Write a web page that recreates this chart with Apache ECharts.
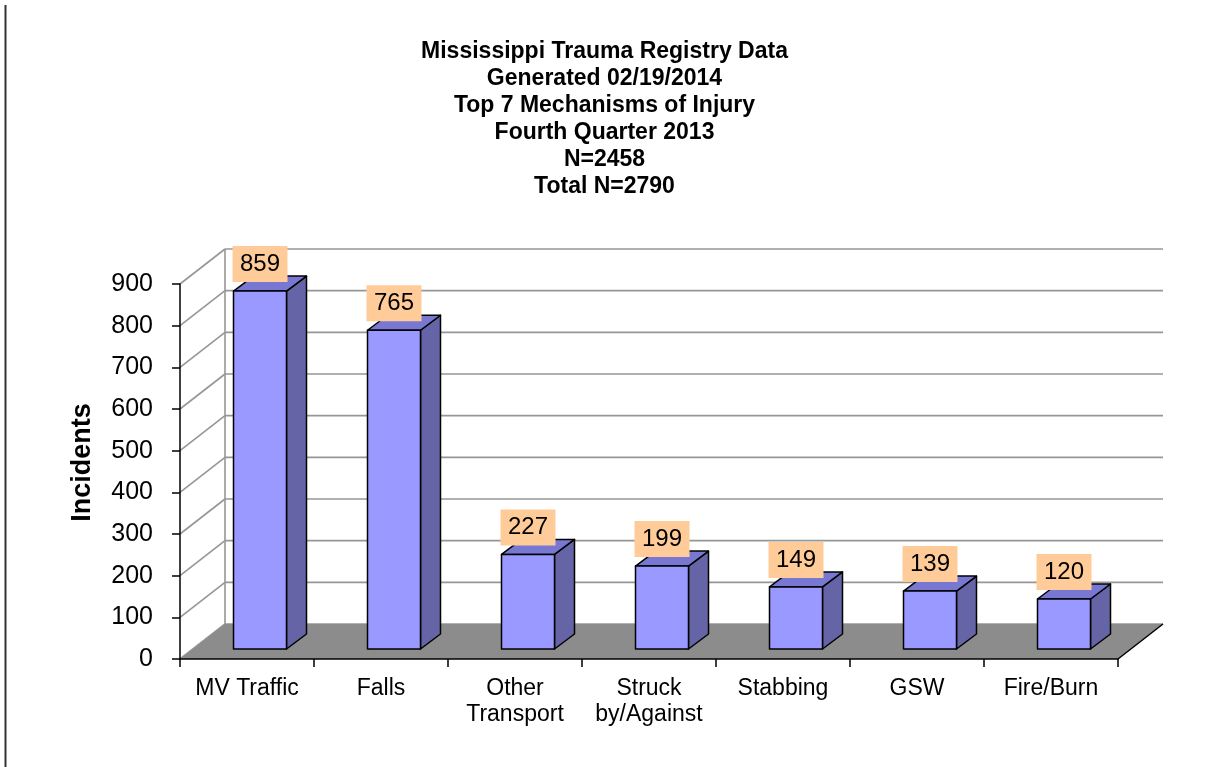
<!DOCTYPE html>
<html>
<head>
<meta charset="utf-8">
<title>Top 7 Mechanisms of Injury</title>
<script src="https://cdn.jsdelivr.net/npm/echarts@6/dist/echarts.min.js"></script>
<style>
    html, body { margin: 0; padding: 0; background: #ffffff; }
    #chart { width: 1209px; height: 767px; }
</style>
</head>
<body>
<div id="chart"></div>
<script>
const titleLines = [
    'Mississippi Trauma Registry Data',
    'Generated 02/19/2014',
    'Top 7 Mechanisms of Injury',
    'Fourth Quarter 2013',
    'N=2458',
    'Total N=2790'
];
const categories = ['MV Traffic', 'Falls', 'Other\nTransport', 'Struck\nby/Against', 'Stabbing', 'GSW', 'Fire/Burn'];
const incidents = [859, 765, 227, 199, 149, 139, 120];
const yTicks = [0, 100, 200, 300, 400, 500, 600, 700, 800, 900];

(function () {
    const FONT = 'Arial, "Liberation Sans", sans-serif';
    // depth of the 3d box (floor / walls)
    const DX = 45, DY = -35;
    // bar sits inside the depth
    const BAR_FX = 13, BAR_FY = -10;
    const BAR_W = 53, SIDE_DX = 20, SIDE_DY = -15;
    const GRID_COLOR = '#969696';

    const chart = echarts.init(document.getElementById('chart'));

    function renderWall(params, api) {
        const cs = params.coordSys;
        const y = api.coord([0, api.value(1)])[1];
        const children = [
            {
                type: 'line',
                shape: { x1: cs.x, y1: y, x2: cs.x + DX, y2: y + DY },
                style: { stroke: GRID_COLOR, lineWidth: 1.6 }
            },
            {
                type: 'line',
                shape: { x1: cs.x + DX, y1: y + DY, x2: cs.x + cs.width + DX, y2: y + DY },
                style: { stroke: GRID_COLOR, lineWidth: 1.6 }
            }
        ];
        if (params.dataIndex === 0) {
            children.push({
                type: 'line',
                shape: { x1: cs.x + DX, y1: cs.y + DY, x2: cs.x + DX, y2: y + DY },
                style: { stroke: GRID_COLOR, lineWidth: 1.6 }
            });
        }
        return { type: 'group', children: children };
    }

    function renderFloor(params, api) {
        const cs = params.coordSys;
        const y0 = api.coord([0, 0])[1];
        const xl = cs.x, xr = cs.x + cs.width;
        return {
            type: 'group',
            children: [
                {
                    type: 'polygon',
                    shape: { points: [[xl, y0], [xl + DX, y0 + DY], [xr + DX, y0 + DY], [xr, y0]] },
                    style: { fill: '#8c8c8c' }
                },
                {
                    type: 'line',
                    shape: { x1: xr, y1: y0, x2: xr + DX, y2: y0 + DY },
                    style: { stroke: '#000000', lineWidth: 1.5 }
                }
            ]
        };
    }

    function renderBar(params, api) {
        const val = api.value(1);
        const top = api.coord([api.value(0), val]);
        const base = api.coord([api.value(0), 0]);
        const cx = top[0] + BAR_FX;
        const xl = cx - BAR_W / 2, xr = cx + BAR_W / 2;
        const yt = top[1] + BAR_FY, yb = base[1] + BAR_FY;
        const edge = { stroke: '#000000', lineWidth: 1.5, lineJoin: 'round' };
        return {
            type: 'group',
            children: [
                {
                    type: 'polygon',
                    shape: { points: [[xr, yt], [xr + SIDE_DX, yt + SIDE_DY], [xr + SIDE_DX, yb + SIDE_DY], [xr, yb]] },
                    style: Object.assign({ fill: '#6464a6' }, edge)
                },
                {
                    type: 'polygon',
                    shape: { points: [[xl, yt], [xr, yt], [xr + SIDE_DX, yt + SIDE_DY], [xl + SIDE_DX, yt + SIDE_DY]] },
                    style: Object.assign({ fill: '#7878d2' }, edge)
                },
                {
                    type: 'rect',
                    shape: { x: xl, y: yt, width: BAR_W, height: yb - yt },
                    style: Object.assign({ fill: '#9999ff' }, edge)
                },
                {
                    type: 'rect',
                    shape: { x: cx - 27.5, y: yt - 9 - 36, width: 55, height: 36 },
                    style: { fill: '#ffcc99' }
                },
                {
                    type: 'text',
                    x: cx,
                    y: yt - 9 - 18,
                    style: {
                        text: String(val),
                        fill: '#000000',
                        font: '24px ' + FONT,
                        align: 'center',
                        verticalAlign: 'middle'
                    }
                }
            ]
        };
    }

    const option = {
        backgroundColor: '#ffffff',
        animation: false,
        title: {
            text: titleLines.join('\n'),
            left: 'center',
            top: 33,
            textStyle: {
                fontFamily: FONT,
                fontSize: 23,
                fontWeight: 'bold',
                color: '#000000',
                lineHeight: 27
            }
        },
        grid: {
            left: 180,
            right: 91,
            top: 284,
            bottom: 108,
            containLabel: false,
            outerBoundsMode: 'none'
        },
        xAxis: {
            type: 'category',
            data: categories,
            z: 10,
            axisLine: { show: true, lineStyle: { color: '#000000', width: 1.5 } },
            axisTick: { show: true, inside: false, length: 8, alignWithLabel: false, lineStyle: { color: '#000000', width: 1.5 } },
            axisLabel: {
                show: true,
                interval: 0,
                margin: 17,
                color: '#000000',
                fontFamily: FONT,
                fontSize: 23,
                lineHeight: 26
            },
            splitLine: { show: false }
        },
        yAxis: {
            type: 'value',
            min: 0,
            max: 900,
            interval: 100,
            z: 10,
            name: 'Incidents',
            nameLocation: 'middle',
            nameRotate: 90,
            nameGap: 84,
            nameTextStyle: {
                fontFamily: FONT,
                fontSize: 27,
                fontWeight: 'bold',
                color: '#000000',
                padding: [0, 0, 0, 18]
            },
            axisLine: { show: true, lineStyle: { color: '#000000', width: 1.5 } },
            axisTick: { show: true, inside: false, length: 8, lineStyle: { color: '#000000', width: 1.5 } },
            axisLabel: {
                show: true,
                margin: 27,
                color: '#000000',
                fontFamily: FONT,
                fontSize: 25,
                formatter: function (v) { return yTicks.indexOf(v) >= 0 ? String(v) : ''; }
            },
            splitLine: { show: false }
        },
        graphic: [
            {
                type: 'line',
                shape: { x1: 5.5, y1: 5, x2: 5.5, y2: 767 },
                style: { stroke: '#333333', lineWidth: 2 }
            }
        ],
        series: [
            {
                type: 'custom',
                name: 'walls',
                z: 1,
                clip: false,
                silent: true,
                renderItem: renderWall,
                data: yTicks.map(v => [0, v])
            },
            {
                type: 'custom',
                name: 'floor',
                z: 2,
                clip: false,
                silent: true,
                renderItem: renderFloor,
                data: [[0, 0]]
            },
            {
                type: 'custom',
                name: 'Incidents',
                z: 3,
                clip: false,
                renderItem: renderBar,
                encode: { x: 0, y: 1 },
                data: incidents.map((v, i) => [i, v])
            }
        ]
    };

    chart.setOption(option);
    window.addEventListener('resize', function () {
        chart.resize();
    });
})();
</script>
</body>
</html>
